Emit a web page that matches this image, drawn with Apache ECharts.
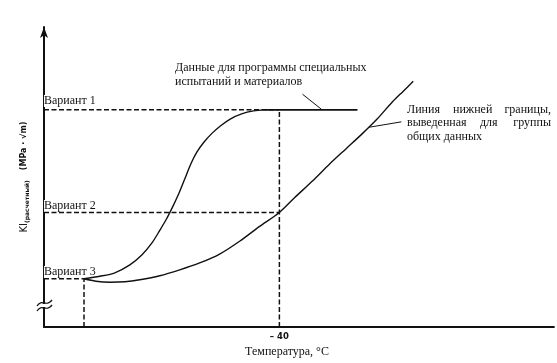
<!DOCTYPE html>
<html><head><meta charset="utf-8">
<script src="https://cdn.jsdelivr.net/npm/echarts@6/dist/echarts.min.js"></script>
<style>html,body{margin:0;padding:0;background:#fff}#c{width:557px;height:363px}</style>
</head><body><div id="c"></div>
<script>
// Axis ranges (temperature, °C / relative K_I)
const xMin = -100, xMax = 30, yMin = 0, yMax = 100, xTickInterval = 60;
const xTickShown = [-40];
const xTickText = ['– 40'];

// Variant levels
const variantNames = ['Вариант 1', 'Вариант 2', 'Вариант 3'];
const variantK = [72.4, 38.2, 16.1];
const variantT = [-40, -40, -89.8];

// Special-program data curve (S-shaped), then plateau
const upperT = [-89.8, -85.75, -81.94, -78.12, -75.07, -72.53, -70.49, -68.71, -67.18, -65.66, -64.13, -62.61, -61.08, -59.3, -57.26, -54.97, -52.43, -49.63, -46.58, -43.78];
const upperK = [16.1, 16.94, 18.09, 20.72, 24.01, 27.96, 32.24, 36.18, 40.13, 44.41, 49.34, 54.28, 58.22, 61.51, 64.47, 67.11, 69.41, 71.05, 72.04, 72.4];
const plateauT = [-43.78, -20.1];
const plateauK = [72.4, 72.4];

// Lower bound curve for general data
const lowerT = [-89.8, -86.77, -83.21, -79.39, -75.58, -70.49, -65.4, -60.32, -55.23, -50.14, -45.05, -40.0, -36.15, -31.57, -27.25, -22.92, -18.85, -15.03, -11.22, -8.42, -5.88];
const lowerK = [16.1, 15.3, 14.97, 15.13, 15.79, 17.11, 19.08, 21.38, 24.34, 28.62, 33.55, 38.2, 43.09, 48.68, 54.28, 59.54, 64.47, 69.41, 75.0, 78.62, 81.91];

// Leader lines for annotations
const leaderTopT = [-34.1, -29.3];
const leaderTopK = [77.6, 72.6];
const leaderRightT = [-8.9, -17.1];
const leaderRightK = [68.4, 66.6];

const zip = (a, b) => a.map((v, i) => [v, b[i]]);
const black = '#111';
const dash = [5, 2.5];

function seg(data, dashed, w) {
  return { type: 'line', data: data, symbol: 'none', silent: true, animation: false, z: 5,
    lineStyle: { color: black, width: w || 1.4, type: dashed ? dash : 'solid' } };
}

const series = [];
variantK.forEach((k, i) => series.push(seg([[xMin, k], [variantT[i], k]], true, 1.5)));
series.push(seg([[variantT[0], yMin], [variantT[0], variantK[0]]], true, 1.5));
series.push(seg([[variantT[2], yMin], [variantT[2], variantK[2]]], true, 1.5));
series.push(Object.assign(seg(zip(upperT, upperK), false, 1.4), { smooth: 0.3 }));
series.push(seg(zip(plateauT, plateauK), false, 1.6));
series.push(Object.assign(seg(zip(lowerT, lowerK), false, 1.4), { smooth: 0.3 }));
series.push(seg(zip(leaderTopT, leaderTopK), false, 1));
series.push(seg(zip(leaderRightT, leaderRightK), false, 1));

const serif = 'Liberation Serif, Times New Roman, serif';
const txt = (x, y, s, extra, z) => ({ type: 'text', x: x, y: y, z: z == null ? 100 : z,
  style: Object.assign({ text: s, font: '12px ' + serif, fill: black, textVerticalAlign: 'middle' }, extra || {}) });
const lbl = { backgroundColor: '#fff', padding: [0, 1, 0, 0] };

const graphic = [
  txt(44, 101, variantNames[0], lbl, 3),
  txt(44, 206, variantNames[1], lbl, 3),
  txt(44, 272, variantNames[2], lbl, 3),
  txt(175, 68, 'Данные для программы специальных'),
  txt(175, 82, 'испытаний и материалов'),
  txt(407, 110, 'Линия'), txt(453, 110, 'нижней'), txt(551, 110, 'границы,', { textAlign: 'right' }),
  txt(407, 123, 'выведенная'), txt(480, 123, 'для'), txt(551, 123, 'группы', { textAlign: 'right' }),
  txt(407, 137, 'общих данных'),
  // axis break mark
  { type: 'rect', z: 100, shape: { x: 41, y: 304, width: 6, height: 3 }, style: { fill: '#fff' } },
  { type: 'bezierCurve', z: 101, shape: { x1: 37, y1: 306, cpx1: 42, cpy1: 298, cpx2: 46, cpy2: 308, x2: 52, y2: 300 },
    style: { stroke: black, lineWidth: 1.3, fill: null } },
  { type: 'bezierCurve', z: 101, shape: { x1: 37, y1: 311, cpx1: 42, cpy1: 303, cpx2: 46, cpy2: 313, x2: 52, y2: 305 },
    style: { stroke: black, lineWidth: 1.3, fill: null } }
];

const chart = echarts.init(document.getElementById('c'), null, { renderer: 'canvas' });
chart.setOption({
  backgroundColor: '#fff',
  animation: false,
  grid: { left: 44, right: 1, top: 27, bottom: 32 },
  xAxis: {
    type: 'value', min: xMin, max: xMax, interval: xTickInterval,
    splitLine: { show: false }, axisTick: { show: false },
    axisLine: { onZero: false, lineStyle: { color: black, width: 1.8 } },
    axisLabel: { margin: 5, color: black, fontFamily: 'DejaVu Sans, sans-serif', fontSize: 8.5, fontWeight: 'bold',
      formatter: v => { const i = xTickShown.indexOf(v); return i >= 0 ? xTickText[i] : ''; } },
    name: 'Температура, °С', nameLocation: 'middle', nameGap: 17,
    nameTextStyle: { color: black, fontFamily: serif, fontSize: 12, padding: [0, 24, 0, 0] }
  },
  yAxis: {
    type: 'value', min: yMin, max: yMax,
    splitLine: { show: false }, axisTick: { show: false }, axisLabel: { show: false },
    axisLine: { onZero: false, symbol: ['none', 'arrow'], symbolSize: [6, 11], lineStyle: { color: black, width: 2 } },
    name: '{k|K}{i|I}{s|(расчетный)}   {u|(MPa · √m)}', nameLocation: 'middle', nameGap: 14, nameRotate: 90,
    nameTextStyle: { color: black,
      rich: { k: { fontFamily: 'DejaVu Sans', fontSize: 10, color: black },
              i: { fontFamily: 'DejaVu Sans', fontSize: 10, color: black },
              s: { fontFamily: 'DejaVu Sans', fontSize: 6, fontWeight: 'bold', color: black, verticalAlign: 'bottom' },
              u: { fontFamily: 'DejaVu Sans', fontSize: 8, fontWeight: 'bold', color: black } } }
  },
  series: series,
  graphic: graphic
});
</script></body></html>
